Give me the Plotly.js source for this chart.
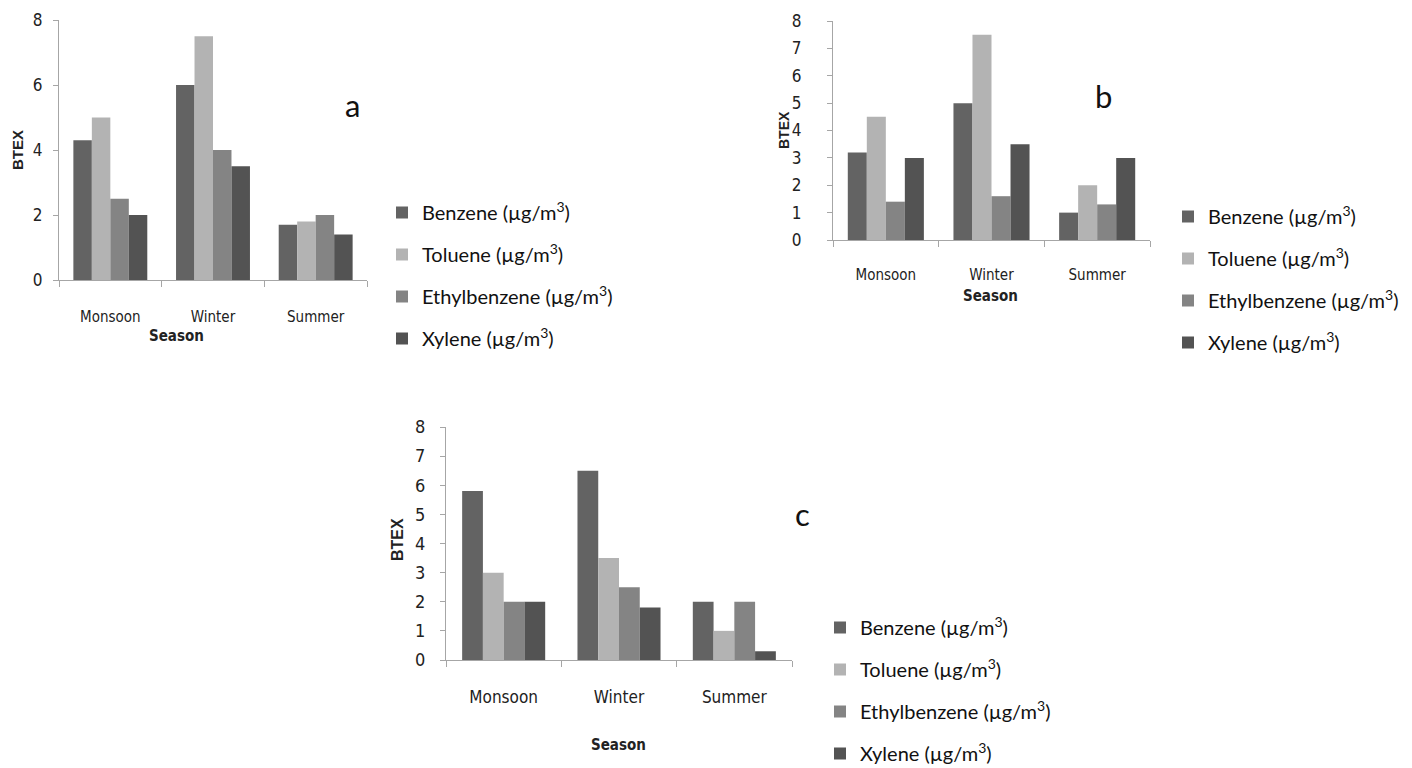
<!DOCTYPE html>
<html><head><meta charset="utf-8">
<script src="https://cdn.plot.ly/plotly-3.0.1.min.js"></script>
<style>
html,body{margin:0;padding:0;background:#fff}
#chart{width:1412px;height:768px}
</style>
</head><body><div id="chart"></div>
<script>
// ---- data ----
const seasons = ['Monsoon', 'Winter', 'Summer'];
const pollutantNames = ['Benzene (µg/m<sup>3</sup>)', 'Toluene (µg/m<sup>3</sup>)', 'Ethylbenzene (µg/m<sup>3</sup>)', 'Xylene (µg/m<sup>3</sup>)'];
const panelLabels = ['a', 'b', 'c'];
const xAxisTitle = 'Season';
const yAxisTitle = 'BTEX';

const panelA_benzene = [4.3, 6.0, 1.7];
const panelA_toluene = [5.0, 7.5, 1.8];
const panelA_ethylbenzene = [2.5, 4.0, 2.0];
const panelA_xylene = [2.0, 3.5, 1.4];

const panelB_benzene = [3.2, 5.0, 1.0];
const panelB_toluene = [4.5, 7.5, 2.0];
const panelB_ethylbenzene = [1.4, 1.6, 1.3];
const panelB_xylene = [3.0, 3.5, 3.0];

const panelC_benzene = [5.8, 6.5, 2.0];
const panelC_toluene = [3.0, 3.5, 1.0];
const panelC_ethylbenzene = [2.0, 2.5, 2.0];
const panelC_xylene = [2.0, 1.8, 0.3];

// ---- styles ----
const barColors = ['#636363', '#b3b3b3', '#848484', '#535353'];
const W = 1412, H = 768;
const px = v => v / W;
const py = v => 1 - v / H;
const tickFamily = '"DejaVu Sans Condensed", "Liberation Sans", sans-serif';
const legendFamily = 'Lato, "Open Sans", sans-serif';
const axisColor = '#a6a6a6';
const textColor = '#222222';

const panels = [
  {series: [panelA_benzene, panelA_toluene, panelA_ethylbenzene, panelA_xylene], sfx: '', legend: 'legend'},
  {series: [panelB_benzene, panelB_toluene, panelB_ethylbenzene, panelB_xylene], sfx: '2', legend: 'legend2'},
  {series: [panelC_benzene, panelC_toluene, panelC_ethylbenzene, panelC_xylene], sfx: '3', legend: 'legend3'}
];

const traces = [];
panels.forEach((p, pi) => {
  p.series.forEach((vals, si) => {
    traces.push({
      type: 'bar',
      x: seasons,
      y: vals,
      name: pollutantNames[si],
      marker: {color: barColors[si], line: {width: 0}},
      xaxis: 'x' + p.sfx,
      yaxis: 'y' + p.sfx,
      legend: p.legend,
      legendgroup: 'p' + pi + 's' + si,
      hoverinfo: 'x+y+name'
    });
  });
});

function xAx(d0, d1, anchor, fs, standoff) {
  return {
    domain: [px(d0), px(d1)], anchor: anchor, type: 'category',
    range: [-0.5, 2.5], showline: true, linecolor: axisColor, linewidth: 1,
    ticks: 'outside', tickson: 'boundaries', ticklen: 6, tickcolor: axisColor, tickwidth: 1,
    showgrid: false, zeroline: false, ticklabelstandoff: standoff,
    tickfont: {family: tickFamily, size: fs, color: textColor}, fixedrange: true
  };
}
function yAx(top, bottom, anchor, dtick, fs, standoff) {
  return {
    domain: [py(bottom), py(top)], anchor: anchor,
    range: [0, 8], dtick: dtick, showline: true, linecolor: axisColor, linewidth: 1,
    ticks: 'outside', ticklen: 5, tickcolor: axisColor, tickwidth: 1,
    showgrid: false, zeroline: false, ticklabelstandoff: standoff,
    tickfont: {family: tickFamily, size: fs, color: textColor}, fixedrange: true
  };
}
function leg(x, y) {
  return {
    x: px(x), y: py(y), xanchor: 'left', yanchor: 'top',
    font: {family: legendFamily, size: 20, color: '#111'},
    traceorder: 'grouped', tracegroupgap: 13, bgcolor: 'rgba(0,0,0,0)'
  };
}

const ann = [];
function addText(text, x, y, font, opts) {
  ann.push(Object.assign({
    text: text, x: px(x), y: py(y), xref: 'paper', yref: 'paper',
    showarrow: false, xanchor: 'center', yanchor: 'middle', font: font
  }, opts || {}));
}
const letterFont = {family: legendFamily, size: 31, color: '#111'};
addText(panelLabels[0], 352, 105, letterFont);
addText(panelLabels[1], 1103, 96, letterFont);
addText(panelLabels[2], 802, 514, letterFont);
const boldNarrow = {family: tickFamily, size: 15, color: textColor};
addText('<b>' + xAxisTitle + '</b>', 176, 336, boldNarrow);
addText('<b>' + xAxisTitle + '</b>', 990, 296, boldNarrow);
addText('<b>' + xAxisTitle + '</b>', 618, 745, boldNarrow);
const boldSans = s => ({family: '"Liberation Sans", Arial, sans-serif', size: s, color: textColor});
addText('<b>' + yAxisTitle + '</b>', 17, 150, boldSans(15), {textangle: -90});
addText('<b>' + yAxisTitle + '</b>', 784, 130, boldSans(14), {textangle: -90});
addText('<b>' + yAxisTitle + '</b>', 397, 540, boldSans(16), {textangle: -90});

const layout = {
  width: W, height: H,
  margin: {l: 0, r: 0, t: 0, b: 0, pad: 0, autoexpand: false},
  paper_bgcolor: '#ffffff', plot_bgcolor: '#ffffff',
  barmode: 'group', bargap: 0.28, bargroupgap: 0,
  showlegend: true,
  xaxis: xAx(59, 367, 'y', 15, 23),
  yaxis: yAx(20, 280, 'x', 2, 17, 7),
  xaxis2: xAx(833, 1150, 'y2', 15, 21),
  yaxis2: yAx(21, 240, 'x2', 1, 17, 22),
  xaxis3: xAx(446, 792, 'y3', 17, 22),
  yaxis3: yAx(427, 660, 'x3', 1, 18, 11),
  legend: leg(382, 193),
  legend2: leg(1168, 197),
  legend3: leg(820, 608),
  annotations: ann
};

Plotly.newPlot('chart', traces, layout, {displayModeBar: false});
</script>
</body></html>
